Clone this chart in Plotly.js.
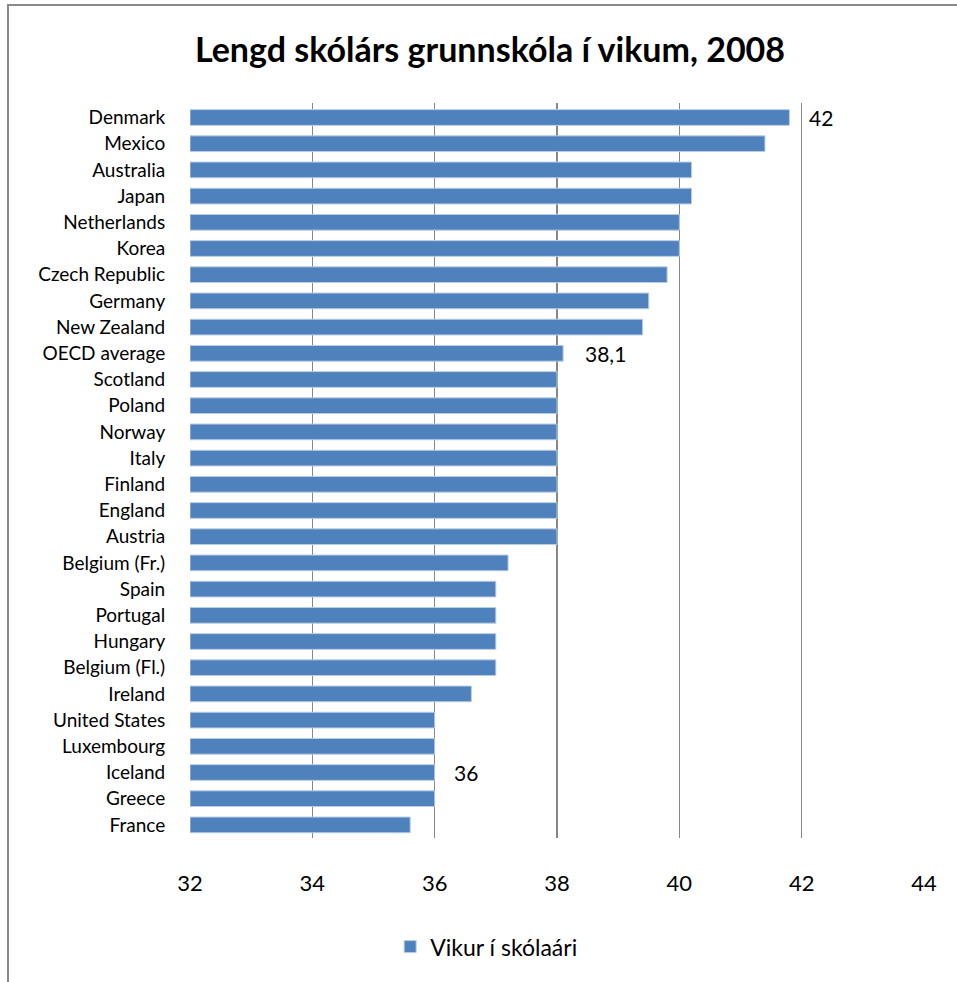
<!DOCTYPE html>
<html>
<head>
<meta charset="utf-8">
<script src="https://cdn.plot.ly/plotly-3.0.1.min.js"></script>
<style>
  html, body { margin: 0; padding: 0; background: #fff; }
  #wrap { position: relative; width: 957px; height: 982px; }
  #frame { position: absolute; left: 7px; top: 4px; width: 960px; height: 990px;
           border-left: 2px solid #898989; border-top: 2px solid #898989; pointer-events: none; }
</style>
</head>
<body>
<div id="wrap">
  <div id="chart" style="width:957px;height:982px;"></div>
  <div id="frame"></div>
</div>
<script>
const countries = ["Denmark","Mexico","Australia","Japan","Netherlands","Korea","Czech Republic","Germany","New Zealand","OECD average","Scotland","Poland","Norway","Italy","Finland","England","Austria","Belgium (Fr.)","Spain","Portugal","Hungary","Belgium (Fl.)","Ireland","United States","Luxembourg","Iceland","Greece","France"];
const weeks = [41.8,41.4,40.2,40.2,40,40,39.8,39.5,39.4,38.1,38,38,38,38,38,38,38,37.2,37,37,37,37,36.6,36,36,36,36,35.6];
const seriesName = "Vikur í skólaári";
const chartTitle = "Lengd skólárs grunnskóla í vikum, 2008";
const xTicks = [32,34,36,38,40,42,44];
const axisMin = 32;
const noteTexts = ["42","38,1","36"];
const noteRows = ["Denmark","OECD average","Iceland"];
const noteX = [42.08,38.42,36.28];

const FONT = "Lato, 'Open Sans', sans-serif";

const trace = {
  type: "bar",
  orientation: "h",
  x: weeks.map(v => v - axisMin),
  base: axisMin,
  y: countries,
  name: seriesName,
  showlegend: true,
  marker: { color: "#4f81bd", line: { color: "#b9cde5", width: 1 } },
  hoverinfo: "y"
};

const layout = {
  width: 957, height: 982,
  margin: { l: 190, r: 33, t: 103, b: 144 },
  paper_bgcolor: "#fff", plot_bgcolor: "#fff",
  font: { family: FONT, color: "#000" },
  title: { text: "<b>" + chartTitle + "</b>", font: { family: FONT, size: 34, color: "#000" },
           x: 0.512, xref: "container", xanchor: "center", y: 0.949, yref: "container", yanchor: "middle" },
  bargap: 0.4,
  xaxis: {
    range: [32, 44], tickvals: xTicks, ticktext: xTicks.map(String),
    showgrid: true, gridcolor: "#878787", gridwidth: 1.5,
    zeroline: false, showline: false,
    ticks: "outside", ticklen: 26, tickcolor: "rgba(0,0,0,0)",
    tickfont: { family: FONT, size: 22, color: "#000" }, fixedrange: true
  },
  yaxis: {
    autorange: "reversed", type: "category",
    showgrid: false, zeroline: false, showline: false,
    ticks: "outside", ticklen: 20, tickcolor: "rgba(0,0,0,0)",
    tickfont: { family: FONT, size: 19, color: "#000" }, fixedrange: true
  },
  legend: {
    orientation: "h", xref: "container", yref: "container",
    x: 0.508, xanchor: "center", y: 0.036, yanchor: "middle",
    itemwidth: 30,
    font: { family: FONT, size: 23, color: "#000" }
  },
  annotations: noteTexts.map((t, i) => ({
    text: t, x: noteX[i], y: noteRows[i], xref: "x", yref: "y",
    xanchor: "left", yanchor: "middle", showarrow: false,
    font: { family: FONT, size: 21, color: "#000" }
  }))
};

Plotly.newPlot("chart", [trace], layout, { displayModeBar: false, staticPlot: true });
</script>
</body>
</html>
